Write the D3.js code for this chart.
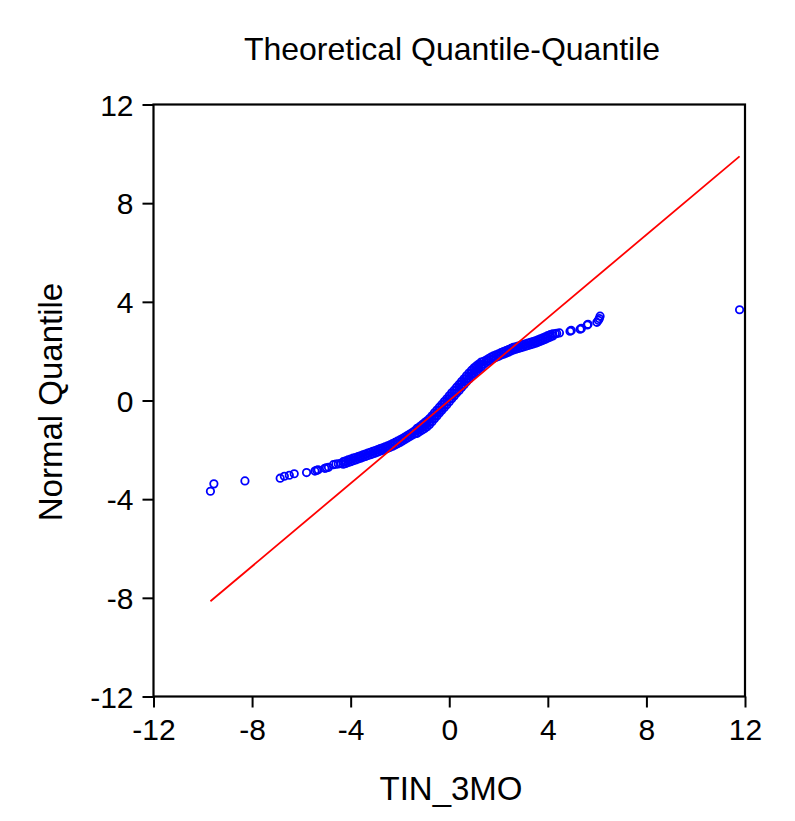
<!DOCTYPE html>
<html>
<head>
<meta charset="utf-8">
<script src="https://cdn.jsdelivr.net/npm/d3@7"></script>
<style>
  html, body { margin: 0; padding: 0; background: #ffffff; }
  svg { display: block; }
  text { font-family: "Liberation Sans", Arial, sans-serif; fill: #000; }
</style>
</head>
<body>
<svg id="chart" width="795" height="821"></svg>
<script>
// ---- Data ----
const chartTitle = "Theoretical Quantile-Quantile";
const xAxisTitle = "TIN_3MO";
const yAxisTitle = "Normal Quantile";
const xTicks = [-12, -8, -4, 0, 4, 8, 12];
const yTicks = [-12, -8, -4, 0, 4, 8, 12];

// TIN_3MO values (x) and their normal quantiles (y); tied values repeat
const tinValues = [
  -9.69, -9.55, -8.29, -6.86, -6.69, -6.49, -6.29, -5.79, -5.45, -5.38, -5.32, -5.05, -4.98, -4.90,
  -4.70, -4.60, -4.50, -4.40,
  -4.30, -4.30, -4.20, -4.20, -4.10, -4.10, -4.00, -4.00, -3.90, -3.90, -3.80, -3.80,
  -3.70, -3.70, -3.60, -3.60, -3.50, -3.50, -3.40, -3.40, -3.30, -3.30, -3.20, -3.20,
  -3.10, -3.10, -3.00, -3.00, -2.90, -2.90, -2.80, -2.80, -2.70, -2.70, -2.60, -2.60,
  -2.50, -2.50, -2.40, -2.40, -2.30, -2.30, -2.20, -2.20, -2.10, -2.10, -2.00, -2.00,
  -1.90, -1.90, -1.80, -1.80, -1.70, -1.70, -1.60, -1.60, -1.50, -1.50, -1.40, -1.40,
  -1.30, -1.30, -1.30, -1.20, -1.20, -1.20, -1.10, -1.10, -1.10, -1.00, -1.00, -1.00,
  -0.90, -0.90, -0.90, -0.80, -0.80, -0.80, -0.70, -0.70, -0.70, -0.60, -0.60, -0.60,
  -0.50, -0.50, -0.50, -0.40, -0.40, -0.40, -0.30, -0.30, -0.30, -0.20, -0.20, -0.20,
  -0.10, -0.10, -0.10, 0.00, 0.00, 0.00, 0.10, 0.10, 0.10, 0.20, 0.20, 0.20,
  0.30, 0.30, 0.30, 0.40, 0.40, 0.40, 0.50, 0.50, 0.50, 0.60, 0.60, 0.60,
  0.70, 0.70, 0.70, 0.80, 0.80, 0.80, 0.90, 0.90, 0.90, 1.00, 1.00, 1.00,
  1.10, 1.10, 1.10, 1.20, 1.20, 1.20, 1.30, 1.30, 1.30,
  1.40, 1.40, 1.50, 1.50, 1.60, 1.60, 1.70, 1.70, 1.80, 1.80, 1.90, 1.90,
  2.00, 2.00, 2.10, 2.10, 2.20, 2.20, 2.30, 2.30, 2.40, 2.40, 2.50, 2.50,
  2.60, 2.60, 2.70, 2.70, 2.80, 2.80, 2.90, 2.90, 3.00, 3.00, 3.10, 3.10,
  3.20, 3.20, 3.30, 3.30, 3.40, 3.40, 3.50, 3.50, 3.60, 3.60, 3.70, 3.70,
  3.80, 3.80, 3.90, 3.90, 4.00, 4.00, 4.10, 4.10, 4.20, 4.20, 4.30, 4.36,
  4.47, 4.90, 4.95, 5.31, 5.36, 5.60, 5.63, 5.99, 6.05, 6.09, 6.12, 11.78
];
const normalQuantiles = [
  -3.68, -3.38, -3.26, -3.15, -3.07, -3.03, -2.97, -2.92, -2.86, -2.83, -2.81, -2.75, -2.73, -2.71,
  -2.60, -2.58, -2.57, -2.55,
  -2.58, -2.48, -2.55, -2.45, -2.51, -2.41, -2.48, -2.38, -2.44, -2.34, -2.41, -2.31,
  -2.37, -2.27, -2.34, -2.24, -2.30, -2.20, -2.27, -2.17, -2.23, -2.13, -2.20, -2.10,
  -2.16, -2.06, -2.13, -2.03, -2.09, -1.99, -2.05, -1.95, -2.02, -1.92, -1.98, -1.88,
  -1.94, -1.84, -1.90, -1.80, -1.85, -1.75, -1.80, -1.70, -1.75, -1.65, -1.70, -1.60,
  -1.64, -1.54, -1.58, -1.48, -1.52, -1.42, -1.46, -1.36, -1.40, -1.30, -1.35, -1.23,
  -1.33, -1.23, -1.13, -1.26, -1.16, -1.06, -1.20, -1.09, -0.98, -1.14, -1.02, -0.90,
  -1.06, -0.94, -0.82, -0.97, -0.85, -0.73, -0.86, -0.74, -0.62, -0.74, -0.62, -0.50,
  -0.63, -0.51, -0.39, -0.51, -0.39, -0.27, -0.40, -0.28, -0.16, -0.28, -0.16, -0.04,
  -0.17, -0.05, 0.07, -0.05, 0.07, 0.19, 0.07, 0.19, 0.31, 0.18, 0.30, 0.42,
  0.30, 0.42, 0.54, 0.41, 0.53, 0.65, 0.53, 0.65, 0.77, 0.64, 0.76, 0.88,
  0.76, 0.88, 1.00, 0.87, 0.99, 1.11, 0.98, 1.10, 1.22, 1.08, 1.20, 1.32,
  1.18, 1.29, 1.40, 1.28, 1.38, 1.48, 1.36, 1.46, 1.56,
  1.47, 1.59, 1.54, 1.64, 1.60, 1.70, 1.66, 1.76, 1.71, 1.81, 1.75, 1.85,
  1.79, 1.89, 1.84, 1.94, 1.88, 1.98, 1.92, 2.02, 1.96, 2.06, 2.01, 2.11,
  2.05, 2.15, 2.08, 2.18, 2.11, 2.21, 2.14, 2.24, 2.17, 2.27, 2.20, 2.30,
  2.23, 2.33, 2.26, 2.36, 2.29, 2.39, 2.32, 2.42, 2.36, 2.46, 2.40, 2.50,
  2.44, 2.54, 2.48, 2.58, 2.53, 2.63, 2.57, 2.67, 2.62, 2.70, 2.70, 2.72,
  2.74, 2.81, 2.84, 2.89, 2.92, 3.06, 3.09, 3.17, 3.25, 3.32, 3.42, 3.68
];
// Reference (fit) line
const lineSlope = 0.84;
const lineIntercept = 0.0;

// ---- Layout ----
const svg = d3.select("#chart");
const mLeft = 153.5, mRight = 745, mTop = 104.5, mBottom = 696.5;

const x = d3.scaleLinear().domain([-12, 12]).range([mLeft, mRight]);
const y = d3.scaleLinear().domain([-12, 12]).range([mBottom, mTop]);

// frame
svg.append("rect")
  .attr("x", mLeft).attr("y", mTop)
  .attr("width", mRight - mLeft).attr("height", mBottom - mTop)
  .attr("fill", "none").attr("stroke", "#000").attr("stroke-width", 2.2);

// axes
const fmt = d => String(d);
const xAxis = d3.axisBottom(x).tickValues(xTicks).tickSize(11).tickPadding(5).tickFormat(fmt);
const yAxis = d3.axisLeft(y).tickValues(yTicks).tickSize(11).tickPadding(9).tickFormat(fmt);

const gx = svg.append("g").attr("transform", `translate(0,${mBottom})`).call(xAxis);
const gy = svg.append("g").attr("transform", `translate(${mLeft},0)`).call(yAxis);
[gx, gy].forEach(g => {
  g.attr("font-family", null).attr("font-size", null);
  g.select(".domain").remove();
  g.selectAll(".tick line").attr("stroke", "#000").attr("stroke-width", 2);
  g.selectAll(".tick text")
    .style("font-family", "'Liberation Sans', Arial, sans-serif")
    .style("font-size", "30px").attr("fill", "#000");
});
gx.selectAll(".tick text").attr("dy", "0.9em");
gy.selectAll(".tick text").attr("dy", "0.36em");

// data
const pts = tinValues.map((v, i) => ({ x: v, y: normalQuantiles[i] }));
const xmin = d3.min(tinValues), xmax = d3.max(tinValues);

const plot = svg.append("g");
plot.selectAll("circle")
  .data(pts)
  .enter().append("circle")
  .attr("cx", d => x(d.x))
  .attr("cy", d => y(d.y))
  .attr("r", 3.7)
  .attr("fill", "none")
  .attr("stroke", "#0000ff")
  .attr("stroke-width", 1.8);

plot.append("line")
  .attr("x1", x(xmin)).attr("y1", y(lineSlope * xmin + lineIntercept))
  .attr("x2", x(xmax)).attr("y2", y(lineSlope * xmax + lineIntercept))
  .attr("stroke", "#ff0000").attr("stroke-width", 1.8);

// titles
svg.append("text")
  .attr("x", 452).attr("y", 60)
  .attr("text-anchor", "middle")
  .style("font-size", "32px")
  .text(chartTitle);

svg.append("text")
  .attr("x", 451).attr("y", 800)
  .attr("text-anchor", "middle")
  .style("font-size", "33px")
  .text(xAxisTitle);

svg.append("text")
  .attr("transform", "translate(62,402) rotate(-90)")
  .attr("text-anchor", "middle")
  .style("font-size", "33px")
  .text(yAxisTitle);
</script>
</body>
</html>
